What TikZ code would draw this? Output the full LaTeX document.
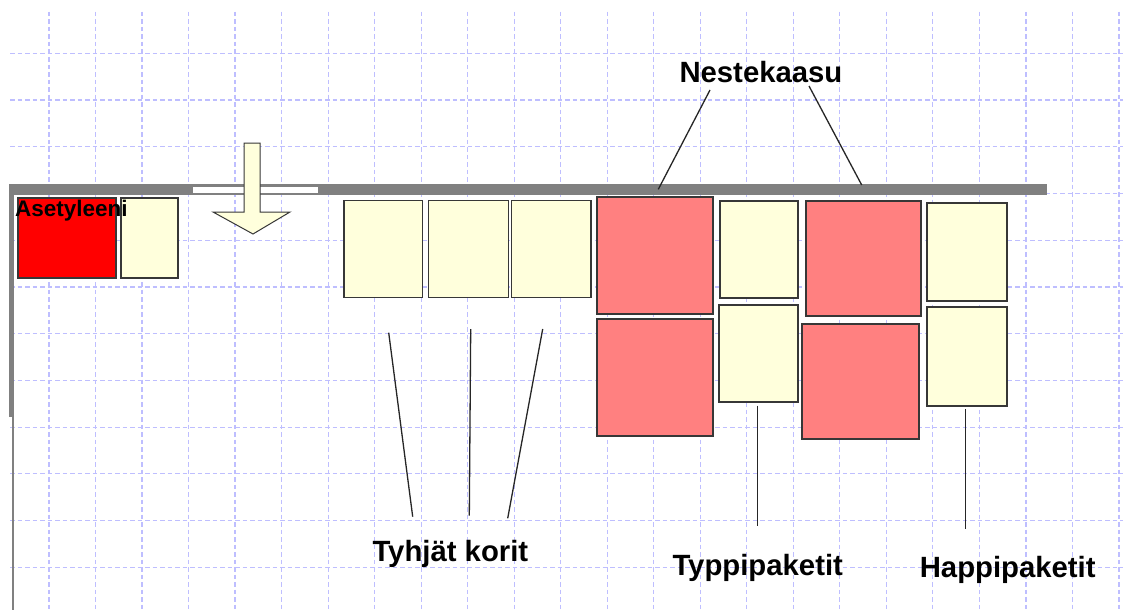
\documentclass[tikz,border=0pt]{standalone}
\usepackage{fontspec}
\setmainfont{Liberation Sans}
\definecolor{gridblue}{RGB}{190,190,255}
\definecolor{wallgray}{RGB}{128,128,128}
\definecolor{edgegray}{RGB}{55,55,55}
\definecolor{paleyellow}{RGB}{255,255,220}
\definecolor{lpgred}{RGB}{255,128,128}
\definecolor{acetred}{RGB}{255,0,0}
\begin{document}
\begin{tikzpicture}[x=1pt,y=-1pt,
  gridline/.style={draw=gridblue, line width=1.2pt, dash pattern=on 4.5pt off 3pt},
  wall/.style={fill=wallgray, draw=none},
  crate/.style={draw=edgegray, line width=1.2pt},
  emptycrate/.style={crate, fill=paleyellow},
  lpgcrate/.style={crate, fill=lpgred},
  acetcrate/.style={crate, fill=acetred},
  leader/.style={draw=black!85, line width=1.3pt},
  lbl/.style={font=\fontsize{29.3}{34}\selectfont\bfseries, inner sep=0pt, anchor=base west},
  smalllbl/.style={font=\fontsize{22.5}{26}\selectfont\bfseries, inner sep=0pt, anchor=base west}
]
\useasboundingbox (0,0) rectangle (1123,610);
\fill[white] (0,0) rectangle (1123,610);

% background grid
\foreach \k in {0,...,23}
  \draw[gridline] ({49+46.52*\k},12) -- ({49+46.52*\k},610);
\foreach \k in {0,...,11}
  \draw[gridline] (10,{53.3+46.73*\k}) -- (1123,{53.3+46.73*\k});

% walls
\path[wall] (9,184) rectangle (1047,195);
\path[wall] (9,184) rectangle (14,417);
\draw[wallgray, line width=1.5pt] (13,417) -- (13,610);
% door opening
\fill[white] (193,187) rectangle (318,193);

% entry arrow
\draw[fill=paleyellow, draw=edgegray, line width=1pt]
  (244,143) -- (260,143) -- (260,212) -- (290,212) -- (253,234)
  -- (213,212) -- (244,212) -- cycle;

% acetylene
\draw[acetcrate] (18,198) rectangle (116,278);
\draw[emptycrate] (121,198) rectangle (178,278);
\node[smalllbl] (acet) at (15,216.5) {Asetyleeni};

% empty crates
\draw[emptycrate] (344,200.7) rectangle (422.3,297.7);
\draw[emptycrate] (428.7,200.7) rectangle (508.3,297.7);
\draw[emptycrate] (511.7,200.7) rectangle (591,297.7);

% liquefied gas
\draw[lpgcrate] (597,197) rectangle (713,314);
\draw[lpgcrate] (597,319) rectangle (713,436);
\draw[lpgcrate] (806,201) rectangle (921,316);
\draw[lpgcrate] (802,324) rectangle (919,439);

% nitrogen
\draw[emptycrate] (720,201) rectangle (798,298);
\draw[emptycrate] (719,305) rectangle (798,402);

% oxygen
\draw[emptycrate] (927,203) rectangle (1007,301);
\draw[emptycrate] (927,307) rectangle (1007,406);

% labels
\node[lbl] (nest) at (679.3,82.7) {Nestekaasu};
\node[lbl] (tyhj) at (372.3,561.7) {Tyhjät korit};
\node[lbl] (typp) at (672.3,575.3) {Typpipaketit};
\node[lbl] (happ) at (919.6,577.3) {Happipaketit};

% leader line ends
\coordinate (nestL) at (710,90);   \coordinate (nestLw) at (658.3,189.3);
\coordinate (nestR) at (809,86);   \coordinate (nestRw) at (861.7,185);
\coordinate (tyA) at (388.7,332.7); \coordinate (tyAl) at (412.7,516.7);
\coordinate (tyB) at (470.7,329);   \coordinate (tyBl) at (469.3,515.7);
\coordinate (tyC) at (542.7,329);   \coordinate (tyCl) at (507.7,518.3);
\coordinate (tpT) at (757.5,405.7); \coordinate (tpB) at (757.5,526);
\coordinate (hpT) at (965.7,409.3); \coordinate (hpB) at (965.7,529.3);

% leader lines
\draw[leader] (nestL) -- (nestLw);
\draw[leader] (nestR) -- (nestRw);
\draw[leader] (tyA) -- (tyAl);
\draw[leader] (tyB) -- (tyBl);
\draw[leader] (tyC) -- (tyCl);
\draw[leader] (tpT) -- (tpB);
\draw[leader] (hpT) -- (hpB);
\end{tikzpicture}
\end{document}
